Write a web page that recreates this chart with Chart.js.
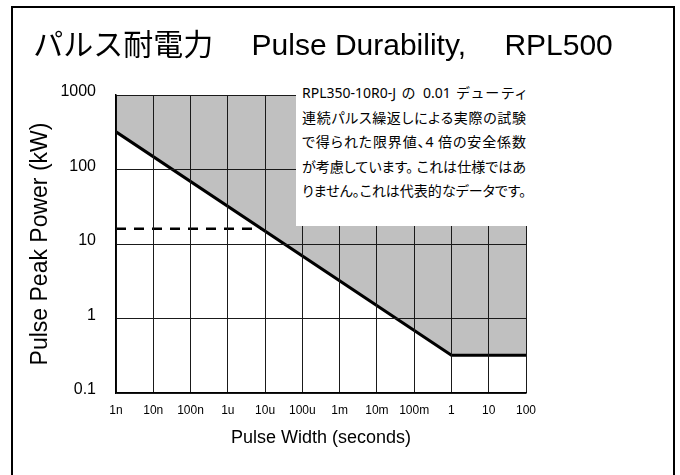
<!DOCTYPE html>
<html><head><meta charset="utf-8">
<script src="https://cdn.jsdelivr.net/npm/chart.js@4"></script>
<style>
html,body{margin:0;padding:0;background:#fff;}
#wrap{position:relative;width:680px;height:475px;overflow:hidden;}
#c{position:absolute;left:0;top:0;}
#frame{position:absolute;left:11px;top:6px;width:664px;height:490px;border:2px solid #000;box-sizing:border-box;pointer-events:none;}
#note{position:absolute;left:296px;top:79px;width:236px;height:147px;background:#fff;font-family:"Noto Sans","Noto Sans CJK JP",sans-serif;font-size:14px;line-height:24.5px;font-feature-settings:"palt";padding:2px 0 0 6px;box-sizing:border-box;white-space:nowrap;color:#000;}
#note div{width:224px;text-align:justify;text-align-last:justify;text-justify:inter-character;}
</style></head><body>
<div id="wrap">
<canvas id="c" width="680" height="475"></canvas>
<div id="note"></div>
<div id="frame"></div>
</div>
<script>
// ---- data ----
const xTickValues = [1e-9, 1e-8, 1e-7, 1e-6, 1e-5, 1e-4, 1e-3, 1e-2, 1e-1, 1, 10, 100];
const xTickLabels = ['1n', '10n', '100n', '1u', '10u', '100u', '1m', '10m', '100m', '1', '10', '100'];
const yTickValues = [0.1, 1, 10, 100, 1000];
const yTickLabels = ['0.1', '1', '10', '100', '1000'];
const limitWidth = [1e-9, 1, 100];
const limitPower = [320, 0.32, 0.32];
const dashWidth = [1e-9, 8e-6];
const dashPower = [16, 16];
const titleText = 'パルス耐電力　 Pulse Durability,　 RPL500';
const xTitle = 'Pulse Width (seconds)';
const yTitle = 'Pulse Peak Power (kW)';
const noteLines = [
  'RPL350-10R0-J の 0.01 デューティ',
  '連続パルス繰返しによる実際の試験',
  'で得られた限界値、4 倍の安全係数',
  'が考慮しています。 これは仕様ではあ',
  'りません。これは代表的なデータです。'
];

const esc = s => s.replace(/&/g,'&amp;').replace(/</g,'&lt;');
document.getElementById('note').innerHTML = noteLines.map(s => '<div>' + esc(s) + '</div>').join('');

Chart.defaults.font.family = "'Liberation Sans','Noto Sans CJK JP',sans-serif";
Chart.defaults.color = '#000';

const toXY = (xs, ys) => xs.map((x, i) => ({x: x, y: ys[i]}));

new Chart(document.getElementById('c'), {
  type: 'line',
  data: {
    datasets: [
      {
        data: toXY(limitWidth, limitPower),
        borderColor: '#000', borderWidth: 3,
        backgroundColor: '#c0c0c0', fill: 'end',
        pointRadius: 0, tension: 0
      },
      {
        data: toXY(dashWidth, dashPower),
        borderColor: '#000', borderWidth: 2.5, borderDash: [10, 8],
        fill: false, pointRadius: 0, tension: 0
      }
    ]
  },
  options: {
    responsive: false,
    animation: false,
    devicePixelRatio: 1,
    layout: {padding: {left: 0, top: 0, bottom: 0, right: 34}},
    plugins: {
      legend: {display: false},
      tooltip: {enabled: false},
      title: {
        display: true, text: titleText, color: '#000',
        font: {size: 30, weight: 'normal', lineHeight: 1},
        padding: {top: 31.5, bottom: 33.5}
      }
    },
    scales: {
      x: {
        type: 'logarithmic', position: 'bottom', min: 1e-9, max: 100,
        afterBuildTicks: s => { s.ticks = xTickValues.map(v => ({value: v})); },
        afterFit: s => { s.height = 82; },
        ticks: {callback: (v, i) => xTickLabels[i], autoSkip: false, maxRotation: 0, font: {size: 12}, color: '#000', padding: 10},
        grid: {color: '#1a1a1a', lineWidth: 1, drawTicks: false, z: 1},
        border: {color: '#000', width: 1.5, z: 1},
        title: {display: true, text: xTitle, color: '#000', font: {size: 18, lineHeight: 1}, padding: {top: 0, bottom: 28}}
      },
      y: {
        type: 'logarithmic', position: 'left', min: 0.1, max: 1000,
        afterBuildTicks: s => { s.ticks = yTickValues.map(v => ({value: v})); },
        afterFit: s => { s.width = 116; },
        ticks: {callback: (v, i) => yTickLabels[i], autoSkip: false, font: {size: 16}, color: '#000', padding: 20, labelOffset: -3},
        grid: {color: '#1a1a1a', lineWidth: 1, drawTicks: false, z: 1},
        border: {color: '#000', width: 1.5, z: 1},
        title: {display: true, text: yTitle, color: '#000', font: {size: 23, lineHeight: 1}, padding: {top: 29.5, bottom: 0}}
      },
      yRight: {
        type: 'linear', position: 'right', display: true,
        afterFit: s => { s.width = 120; },
        ticks: {display: false},
        grid: {display: false, drawTicks: false},
        border: {display: false}
      }
    }
  }
});
</script>
</body></html>
